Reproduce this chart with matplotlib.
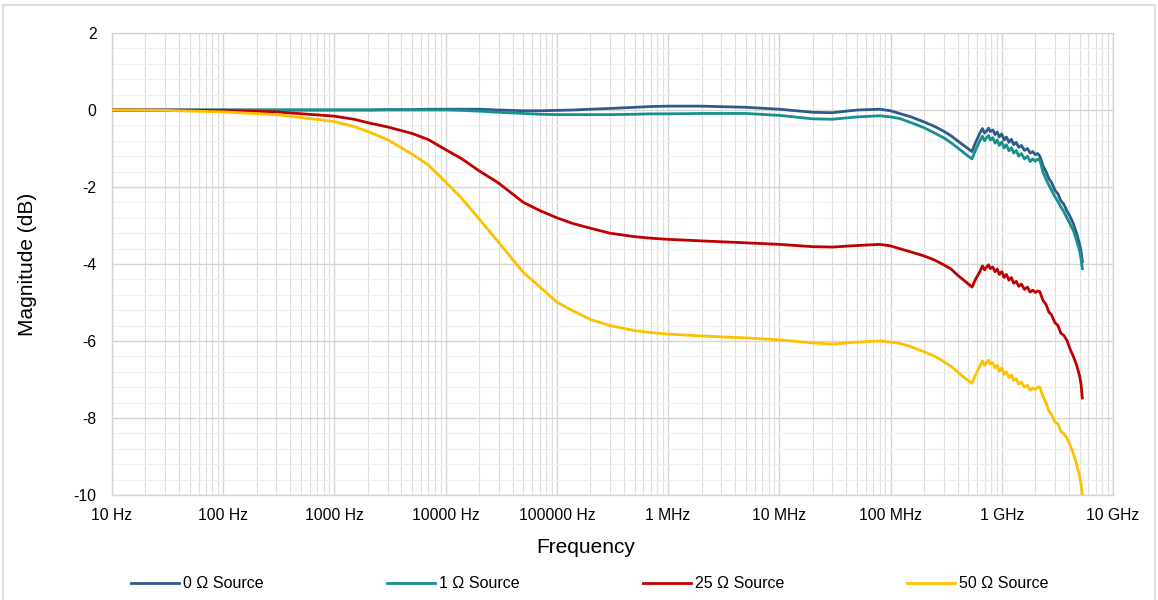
import numpy as np
import matplotlib
matplotlib.use("Agg")
import matplotlib.pyplot as plt
from matplotlib.ticker import FixedLocator, NullFormatter, MultipleLocator
from matplotlib.patches import Rectangle

plt.rcParams['font.family'] = ['Liberation Sans', 'DejaVu Sans']
plt.rcParams['axes.unicode_minus'] = False

# frequency points (Hz), shared by all four traces
freq = [10, 30, 100, 300,
        1e3, 1.5e3, 2e3, 3e3, 5e3, 7e3, 1e4, 1.4e4, 2e4, 3e4, 5e4, 7e4,
        1e5, 1.4e5, 2e5, 3e5, 5e5, 7e5, 1e6,
        2e6, 5e6, 1e7, 2e7, 3e7, 5e7, 8e7,
        1e8, 1.2e8, 1.5e8, 2e8, 2.5e8, 3e8, 3.5e8, 4e8, 4.6e8,
        5.4e8, 5.8e8, 6.3e8, 6.7e8, 7.0e8, 7.3e8, 7.6e8, 7.9e8, 8.3e8, 8.7e8,
        9.1e8, 9.5e8, 1.0e9, 1.05e9, 1.1e9, 1.16e9, 1.22e9, 1.28e9, 1.35e9,
        1.42e9, 1.5e9, 1.6e9, 1.7e9, 1.8e9, 1.9e9, 2.0e9, 2.1e9, 2.2e9,
        2.35e9, 2.5e9, 2.65e9, 2.8e9, 3.0e9, 3.2e9, 3.4e9, 3.6e9, 3.85e9,
        4.1e9, 4.4e9, 4.7e9, 5.0e9, 5.15e9, 5.3e9]

src_0 = [0.0, 0.0, 0.0, 0.0,
         0.0, 0.0, 0.0, 0.01, 0.01, 0.02, 0.02, 0.02, 0.02, 0.0, -0.02, -0.02,
         -0.01, 0.0, 0.02, 0.04, 0.07, 0.09, 0.1,
         0.1, 0.07, 0.02, -0.06, -0.07, 0.0, 0.02,
         -0.02, -0.09, -0.17, -0.31, -0.43, -0.55, -0.67, -0.8, -0.93,
         -1.08, -0.85, -0.62, -0.48, -0.6, -0.55, -0.47, -0.56, -0.52, -0.64,
         -0.57, -0.7, -0.62, -0.78, -0.7, -0.84, -0.76, -0.9, -0.84,
         -0.97, -0.92, -1.05, -1.0, -1.12, -1.08, -1.16, -1.13, -1.2,
         -1.45, -1.6, -1.78, -1.88, -2.08, -2.18, -2.36, -2.44, -2.62,
         -2.76, -2.95, -3.2, -3.48, -3.65, -3.94]

src_1 = [0.0, 0.0, 0.0, 0.0,
         0.0, 0.0, 0.0, 0.0, 0.0, 0.0, 0.0, -0.01, -0.03, -0.06, -0.09, -0.11,
         -0.12, -0.12, -0.12, -0.12, -0.11, -0.1, -0.1,
         -0.09, -0.09, -0.14, -0.23, -0.24, -0.18, -0.15,
         -0.18, -0.22, -0.32, -0.46, -0.6, -0.72, -0.85, -0.98, -1.12,
         -1.27, -1.05, -0.82, -0.68, -0.8, -0.72, -0.66, -0.78, -0.72, -0.86,
         -0.78, -0.92, -0.83, -0.99, -0.9, -1.06, -0.98, -1.12, -1.05,
         -1.2, -1.13, -1.27, -1.2, -1.34, -1.27, -1.33, -1.28, -1.3,
         -1.62, -1.8, -1.95, -2.08, -2.25, -2.38, -2.52, -2.63, -2.8,
         -2.95, -3.13, -3.38, -3.65, -3.85, -4.12]

src_25 = [0.0, -0.005, -0.01, -0.05,
          -0.16, -0.24, -0.33, -0.44, -0.61, -0.77, -1.03, -1.27, -1.58, -1.9, -2.4, -2.61,
          -2.8, -2.95, -3.07, -3.2, -3.29, -3.33, -3.36,
          -3.4, -3.45, -3.49, -3.55, -3.56, -3.52, -3.49,
          -3.53, -3.6, -3.68, -3.79, -3.9, -4.02, -4.13, -4.29, -4.43,
          -4.6, -4.4, -4.22, -4.05, -4.15, -4.08, -4.02, -4.12, -4.08, -4.2,
          -4.13, -4.27, -4.2, -4.35, -4.27, -4.42, -4.35, -4.5, -4.45,
          -4.58, -4.52, -4.66, -4.6, -4.73, -4.68, -4.74, -4.7, -4.72,
          -4.95, -5.05, -5.25, -5.32, -5.52, -5.6, -5.8, -5.85, -5.98,
          -6.2, -6.4, -6.62, -6.9, -7.1, -7.48]

src_50 = [0.0, -0.01, -0.05, -0.12,
          -0.3, -0.43, -0.56, -0.77, -1.15, -1.43, -1.87, -2.3, -2.83, -3.44, -4.22, -4.59,
          -4.99, -5.22, -5.44, -5.6, -5.73, -5.78, -5.82,
          -5.87, -5.92, -5.97, -6.05, -6.08, -6.03, -6.0,
          -6.03, -6.06, -6.14, -6.28, -6.4, -6.53, -6.66, -6.8, -6.95,
          -7.1, -6.88, -6.68, -6.52, -6.63, -6.56, -6.5, -6.6, -6.56, -6.7,
          -6.63, -6.78, -6.7, -6.87, -6.8, -6.95, -6.88, -7.03, -6.98,
          -7.12, -7.07, -7.2, -7.15, -7.28, -7.22, -7.26, -7.2, -7.2,
          -7.45, -7.6, -7.82, -7.9, -8.1, -8.15, -8.35, -8.4, -8.52,
          -8.7, -8.92, -9.2, -9.5, -9.72, -10.0]

labels = ["0 Ω Source", "1 Ω Source", "25 Ω Source", "50 Ω Source"]
colors = ["#2F5B8A", "#16918D", "#C00000", "#FFC000"]

x_ticks = [1e1, 1e2, 1e3, 1e4, 1e5, 1e6, 1e7, 1e8, 1e9, 1e10]
x_labels = ["10 Hz", "100 Hz", "1000 Hz", "10000 Hz", "100000 Hz",
            "1 MHz", "10 MHz", "100 MHz", "1 GHz", "10 GHz"]

fig = plt.figure(figsize=(11.58, 6.0), dpi=100)
ax = fig.add_axes([112 / 1158, 1 - 495 / 600, (1113 - 112) / 1158, (495 - 33) / 600])

# outer chart border
fig.patches.append(Rectangle((3 / 1158, -0.05), 1152 / 1158, 1.0 - 5 / 600 + 0.05,
                             transform=fig.transFigure, fill=False,
                             edgecolor="#d9d9d9", linewidth=1.2, zorder=0))

for vals, lab, col in zip([src_0, src_1, src_25, src_50], labels, colors):
    ax.plot(freq, vals, color=col, linewidth=2.0, label=lab, zorder=3,
            solid_joinstyle="round")

ax.set_xscale("log")
ax.set_xlim(10, 1e10)
ax.set_ylim(-10, 2)

minor_x = [d * k for d in x_ticks[:-1] for k in range(2, 10)]
ax.xaxis.set_major_locator(FixedLocator(x_ticks))
ax.set_xticklabels(x_labels)
ax.xaxis.set_minor_locator(FixedLocator(minor_x))
ax.xaxis.set_minor_formatter(NullFormatter())
ax.yaxis.set_major_locator(MultipleLocator(2))
ax.yaxis.set_minor_locator(MultipleLocator(0.4))

ax.grid(True, which="major", axis="both", color="#d4d4d4", linewidth=1.0, zorder=0)
ax.grid(True, which="minor", axis="x", color="#dedede", linewidth=0.8, zorder=0)
ax.grid(True, which="minor", axis="y", color="#efefef", linewidth=0.8, zorder=0)
ax.set_axisbelow(True)

for s in ax.spines.values():
    s.set_color("#d4d4d4")
    s.set_linewidth(1.0)

ax.tick_params(axis="both", which="both", length=0, labelsize=11.3, labelcolor="#000000")
ax.tick_params(axis="x", pad=9)
ax.tick_params(axis="y", pad=11)

ax.set_xlabel("Frequency", fontsize=15)
ax.set_ylabel("Magnitude (dB)", fontsize=15)
ax.xaxis.set_label_coords((586 - 112) / 1001, -0.092)
ax.yaxis.set_label_coords((37 - 112) / 1001, 0.5)

fig.legend(loc="center", bbox_to_anchor=(125 / 1158, 0.002, 930 / 1158, 0.05),
           mode="expand", ncol=4, frameon=False, fontsize=11.5,
           handlelength=3.0, handletextpad=0.25, borderaxespad=0)

fig.savefig("out.png", dpi=100)
